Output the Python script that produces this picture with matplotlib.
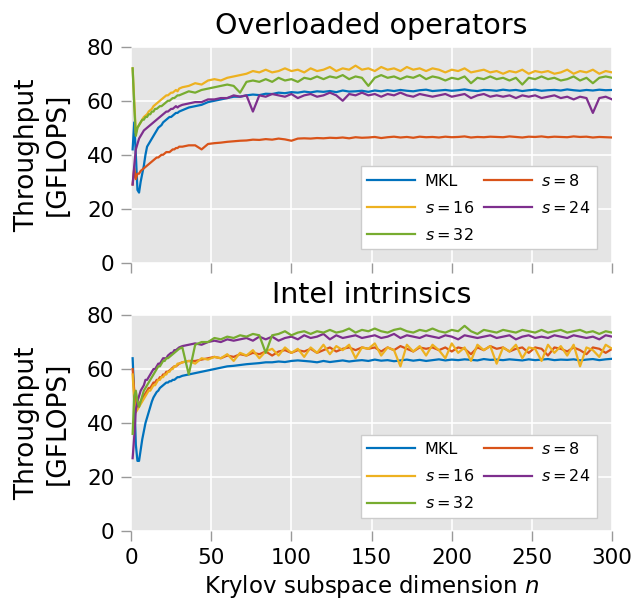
import matplotlib
matplotlib.use("Agg")
import matplotlib.pyplot as plt

plt.rcParams['font.family'] = ['DejaVu Sans']
plt.rcParams['mathtext.fontset'] = 'dejavusans'

# Krylov subspace dimension: every n up to 30, then every 4th
n = list(range(1, 31)) + list(range(32, 301, 4))

labels = ["MKL", "$s = 8$", "$s = 16$", "$s = 24$", "$s = 32$"]
colors = ["#0072BD", "#D95319", "#EDB120", "#7E2F8E", "#77AC30"]

# ---- Overloaded operators ----
top_mkl = [42, 52, 40, 27, 26, 30, 33, 36, 40, 43, 44, 45, 46, 47, 48, 49, 50, 50.5, 51, 52,
           52.5, 53, 53.5, 54, 54, 54.5, 55, 55.5, 55.5, 56,
           56.5, 57.5, 58, 58.5, 59.5, 60, 60.5, 61, 61.5, 61.5,
           62, 62.3, 62.1, 62.6, 62.5, 63, 62.8, 63.2, 63, 63.4,
           63.1, 63.5, 63.3, 63.6, 63.2, 63.8, 63.4, 63.5, 63.7, 63.3,
           63.8, 63.5, 63.9, 63.6, 64, 63.7, 63.5, 63.9, 64.1, 63.6,
           63.8, 64, 63.7, 63.9, 64.2, 63.8, 63.6, 64, 63.9, 63.7,
           64.1, 63.8, 64, 63.6, 63.9, 64.1, 63.7, 63.9, 64, 63.8,
           64.2, 63.9, 63.7, 64, 63.8, 64.1, 63.9, 64]
top_s8 = [29, 35, 31, 33, 33, 34, 34.5, 35, 35.5, 36, 36.5, 37, 37.5, 38, 38.5, 39, 39, 39.5, 40, 40,
          40.5, 41, 41, 41, 41.5, 42, 42, 42.5, 42.5, 43,
          43, 43.5, 43.5, 42, 44, 44.3, 44.5, 44.8, 45, 45.2,
          45.3, 45.6, 45.5, 45.8, 45.6, 46, 45.7, 45.2, 46, 46.1,
          46, 46.2, 46.1, 46.3, 46.2, 46.4, 46.1, 46.5, 46.3, 46.4,
          46.6, 46.2, 46.5, 46.7, 46.4, 46.6, 46.3, 46.7, 46.5, 46.6,
          46.4, 46.7, 46.5, 46.6, 46.8, 46.4, 46.6, 46.5, 46.7, 46.6,
          46.5, 46.8, 46.6, 46.4, 46.7, 46.6, 46.8, 46.5, 46.7, 46.6,
          46.5, 46.8, 46.6, 46.7, 46.4, 46.6, 46.5, 46.4]
top_s16 = [72, 60, 48, 50, 51, 52, 53, 54, 54.5, 55, 56, 56.5, 57, 58, 58.5, 59, 59.5, 60, 60.5, 61,
           61.5, 62, 62, 62.5, 63, 63, 63.5, 64, 63.5, 64.5,
           65, 65.5, 66.5, 66, 67.5, 68, 67.5, 68.5, 69, 69.5,
           70, 71, 70.5, 71.5, 70.5, 71, 72, 71, 71.5, 70.5,
           72, 71, 71.5, 72.5, 71, 72, 71.5, 73, 71.5, 72,
           71, 72.5, 71.5, 72, 71, 72.5, 71.5, 72, 71, 72,
           71.5, 70.5, 71.5, 71, 72, 70.5, 71, 71.5, 70.5, 71,
           70, 71, 70.5, 71.5, 70, 71, 70.5, 71, 70, 70.5,
           71.5, 70, 71, 70.5, 71.5, 70, 71, 70.5]
top_s24 = [29, 36, 42, 44, 46, 47, 48, 49, 49.5, 50, 50.5, 51, 51.5, 52, 52.5, 53, 53.5, 54, 54.5, 55,
           55.5, 56, 56, 56.5, 57, 57, 57.5, 58, 57.5, 58,
           58.5, 59, 59.5, 59.5, 60.5, 60.5, 61, 61, 62, 61.5,
           62, 56, 62, 61.5, 62.5, 62, 61.5, 62.5, 61, 62,
           62.5, 61.5, 62, 63, 62, 60, 62.5, 62, 63, 62,
           62.5, 61.5, 62.5, 62, 63, 62, 61.5, 62.5, 62, 61.5,
           62, 62.5, 61.5, 62, 62.5, 61, 62, 62.5, 61.5, 62,
           61.5, 62, 61, 62, 61.5, 62, 61, 61.5, 62, 61,
           61.5, 60.5, 61.5, 61, 55.5, 61, 61.5, 60.5]
top_s32 = [72, 58, 47, 50, 51, 52, 53, 53, 54, 54, 55, 55, 56, 56, 57, 57, 57.5, 58, 58, 58.5,
           59, 59.5, 60, 60, 60.5, 61, 61, 61.5, 62, 62,
           62.5, 63.5, 63, 64, 64.5, 65, 65.5, 66, 65.5, 63,
           67, 67.5, 67, 68, 67, 68.5, 67.5, 68, 67, 68.5,
           68, 69, 68, 69, 68.5, 69.5, 68, 69, 68.5, 65.5,
           68.5, 69.5, 68.5, 69, 68, 69, 68.5, 69.5, 68, 69,
           68.5, 67.5, 68.5, 68, 69, 66.5, 68.5, 68, 69, 68,
           68.5, 67.5, 68.5, 66, 68.5, 68, 69, 68, 68.5, 67.5,
           68, 69, 67.5, 68.5, 66.5, 68.5, 69, 68.5]

# ---- Intel intrinsics ----
bot_mkl = [64, 50, 32, 26, 26, 30, 34, 37, 40, 42, 44, 46, 48, 49.5, 50.5, 51.5, 52, 53, 53.5, 54,
           54.5, 55, 55, 55.5, 55.5, 56, 56, 56.5, 57, 57,
           57.5, 58, 58.5, 59, 59.5, 60, 60.5, 61, 61.2, 61.5,
           61.8, 62, 62.2, 62.5, 62.5, 62.8, 62.6, 63, 63.2, 63,
           62.8, 62.5, 63, 62.6, 62.9, 63.2, 62.8, 63.1, 63.3, 63,
           63.5, 63.1, 63.3, 62.9, 63.2, 63.5, 63.1, 63.4, 63, 63.3,
           63.6, 63.2, 63.5, 63.3, 63.6, 63.4, 63.2, 63.7, 63.4, 63.5,
           63.3, 63.6, 63.4, 63.2, 63.6, 63.3, 63.5, 63.7, 63.3, 63.5,
           63.4, 63.6, 63.2, 63.5, 63.7, 63.3, 63.6, 63.8]
bot_s8 = [60, 52, 47, 46, 47, 48, 49, 50, 51, 52, 53, 53, 54, 55, 55, 56, 56, 57, 57, 58,
          58, 59, 59, 59.5, 60, 60.5, 61, 61, 61.5, 62,
          62.5, 63, 63, 63.5, 64, 64.5, 64, 65, 64.5, 65.5,
          65, 66, 65.5, 66.5, 65, 66.5, 67, 66, 67, 66.5,
          67.5, 66, 67, 68, 66.5, 67.5, 68, 67, 68, 67.5,
          68, 66.5, 68, 67, 68.5, 67.5, 66.5, 68, 67.5, 68,
          67, 68, 66.5, 68, 67.5, 65.5, 68, 67, 68.5, 67.5,
          68, 66.5, 67.5, 68, 66, 68, 67.5, 65, 68, 67.5,
          66.5, 68, 67, 65.5, 68, 67.5, 66, 67.5]
bot_s16 = [58, 48, 44, 45, 46, 47, 48, 49, 50, 51, 52, 52, 53, 54, 54, 55, 56, 56, 57, 57,
           58, 58, 59, 59, 60, 60, 61, 61, 62, 62,
           62.5, 63, 62, 64, 63.5, 64.5, 64, 65.5, 63, 66,
           65, 67, 64, 66.5, 67.5, 65, 68, 66, 67.5, 64.5,
           68, 66, 69, 65.5, 68.5, 67, 69, 64, 68, 67.5,
           69.5, 65, 68, 67, 61, 69, 66.5, 68.5, 65, 69,
           67, 64, 69.5, 66, 68, 63, 69, 67, 68.5, 62,
           68, 66.5, 69, 64, 68, 67.5, 63, 69, 66, 68.5,
           65, 69, 61, 68, 67, 64.5, 69, 67.5]
bot_s24 = [27, 35, 45, 48, 50, 52, 53, 54, 56, 56, 57, 58, 59, 60, 60, 61, 62, 62, 63, 64,
           64, 64, 65, 65.5, 66, 66, 67, 67, 67.5, 68,
           68.5, 69, 69.5, 69, 70, 70.5, 70, 71, 70.5, 71,
           71.5, 70.5, 72, 71, 72, 70.5, 71.5, 72, 71, 72.5,
           71.5, 72, 73, 71, 72.5, 71.5, 72, 72.5, 71.5, 72,
           72.5, 71.5, 72, 73, 71.5, 72.5, 72, 71.5, 72.5, 72,
           71.5, 72.5, 72, 71, 72.5, 72, 71.5, 72, 72.5, 71.5,
           72, 72.5, 71, 72, 72.5, 71.5, 72, 71.5, 72.5, 72,
           71.5, 72.5, 72, 71.5, 72, 71, 72.5, 72]
bot_s32 = [36, 50, 52, 48, 46, 48, 50, 52, 53, 54, 55, 56, 57, 58, 59, 60, 61, 61, 62, 63,
           63, 64, 64, 64.5, 65, 65.5, 66, 66.5, 67, 67.5,
           68, 58, 69, 70, 70, 71.5, 71, 72, 71.5, 72.5,
           72, 73, 72.5, 66, 72.5, 73, 74, 72.5, 73.5, 74,
           73, 74, 73.5, 74.5, 73.5, 74, 75, 73.5, 74.5, 74,
           75, 74, 73.5, 74.5, 75, 74, 73.5, 74.5, 74, 75,
           74, 73.5, 74.5, 74, 76, 74, 73, 74.5, 74, 73.5,
           74.5, 74, 73.5, 74.5, 74, 73.5, 74.5, 73.5, 74, 74.5,
           73.5, 74, 74.5, 73.5, 74, 73, 74, 73.5]

panels = [("Overloaded operators", [top_mkl, top_s8, top_s16, top_s24, top_s32]),
          ("Intel intrinsics", [bot_mkl, bot_s8, bot_s16, bot_s24, bot_s32])]

fig = plt.figure(figsize=(6.33, 6.07), dpi=100)
ax_top = fig.add_axes([0.207, 0.567, 0.760, 0.356])
ax_bot = fig.add_axes([0.207, 0.125, 0.760, 0.356])

for ax, (title, series) in zip([ax_top, ax_bot], panels):
    ax.set_facecolor("#E5E5E5")
    lines = []
    for ys, lab, col in zip(series, labels, colors):
        ln, = ax.plot(n, ys, color=col, lw=1.6, label=lab)
        lines.append(ln)
    ax.set_xlim(0, 300)
    ax.set_ylim(0, 80)
    ax.set_xticks([0, 50, 100, 150, 200, 250, 300])
    ax.set_yticks([0, 20, 40, 60, 80])
    ax.grid(True, color="white", lw=1.2)
    ax.set_axisbelow(True)
    for sp in ax.spines.values():
        sp.set_visible(False)
    ax.tick_params(axis="both", length=7, width=1, color="#999999",
                   labelsize=15.5, pad=5)
    ax.set_title(title, fontsize=20.5, pad=9)
    ax.set_ylabel("Throughput\n[GFLOPS]", fontsize=19, labelpad=12,
                  linespacing=1.2)
    order = [0, 2, 4, 1, 3]
    leg = ax.legend([lines[i] for i in order], [labels[i] for i in order],
                    ncol=2, loc="lower right", bbox_to_anchor=(0.985, 0.025),
                    fontsize=11.5, handlelength=3, columnspacing=0.6,
                    handletextpad=0.6, labelspacing=0.7,
                    fancybox=False, framealpha=1, edgecolor="#CCCCCC")
    leg.get_frame().set_linewidth(1)

ax_top.tick_params(axis="x", labelbottom=False)
ax_bot.set_xlabel("Krylov subspace dimension $n$", fontsize=16.5, labelpad=4)

fig.savefig("out.png", dpi=100)
